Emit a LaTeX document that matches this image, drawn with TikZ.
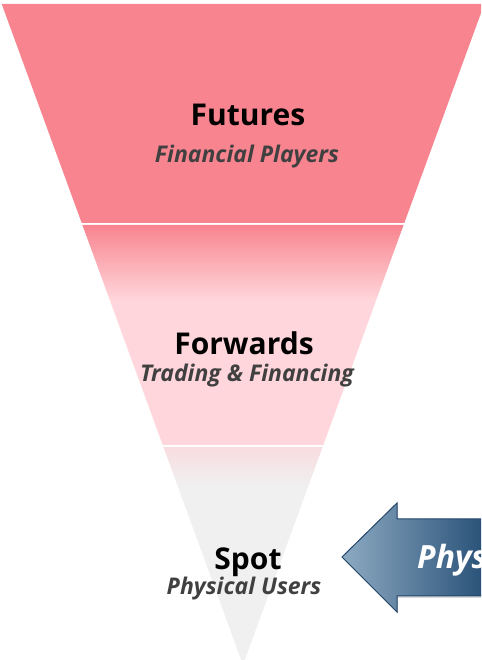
\documentclass[tikz,border=0pt]{standalone}
\usepackage{fontspec}
\setmainfont{Open Sans}
\usetikzlibrary{shadows}
\definecolor{pinkdark}{HTML}{F8848F}
\definecolor{pinklight}{HTML}{FFD6DB}
\definecolor{spotgray}{HTML}{F0F0F0}
\definecolor{spottop}{HTML}{F8DCE0}
\definecolor{arrowlight}{HTML}{8DAAC2}
\definecolor{arrowdark}{HTML}{1E4870}
\definecolor{arrowedge}{HTML}{24476B}
\definecolor{subgray}{HTML}{404040}
\pgfdeclareverticalshading{forwardsshade}{100bp}{color(0bp)=(pinklight); color(25bp)=(pinklight); color(58bp)=(pinklight); color(75bp)=(pinkdark); color(100bp)=(pinkdark)}
\pgfdeclareverticalshading{spotshade}{100bp}{color(0bp)=(spotgray); color(25bp)=(spotgray); color(66bp)=(spotgray); color(75bp)=(spottop); color(100bp)=(spottop)}
\tikzset{
  title/.style={anchor=base, inner sep=0pt, font=\fontsize{30}{30}\selectfont\bfseries, text=black},
  subtitle/.style={anchor=base, inner sep=0pt, font=\fontsize{23}{23}\selectfont\bfseries\itshape, text=subgray},
  arrowtext/.style={anchor=base west, inner sep=0pt, font=\fontsize{32}{32}\selectfont\bfseries\itshape, text=white}
}
\begin{document}
\begin{tikzpicture}[x=1pt,y=1pt]
  \useasboundingbox (0,0) rectangle (481,660);
  \clip (0,0) rectangle (481,660);
  % funnel bands
  \fill[pinkdark] (1.7,656) -- (484.3,656) -- (404.3,437) -- (81.7,437) -- cycle;
  \shade[shading=forwardsshade] (82.4,435) -- (403.6,435) -- (323.3,215) -- (162.7,215) -- cycle;
  \shade[shading=spotshade] (163.4,213) -- (322.6,213) -- (243,-5) -- cycle;
  % labels
  \node[title] (futures) at (248,534) {Futures};
  \node[subtitle] (futuressub) at (247,497) {Financial Players};
  \node[title] (forwards) at (244,305) {Forwards};
  \node[subtitle] (forwardssub) at (247,278) {Trading \& Financing};
  \node[title] (spot) at (248,90) {Spot};
  \node[subtitle] (spotsub) at (244,65) {Physical Users};
  % arrow from the right
  \shade[left color=arrowlight, right color=arrowdark, draw=arrowedge, line width=1pt,
    line join=miter, drop shadow={shadow xshift=1pt, shadow yshift=-2pt, opacity=0.3}]
    (342,103) -- (397,157) -- (397,141) -- (500,141) -- (500,64) -- (397,64) -- (397,48) -- cycle;
  \node[arrowtext] (physical) at (417,91) {Physical};
\end{tikzpicture}
\end{document}
